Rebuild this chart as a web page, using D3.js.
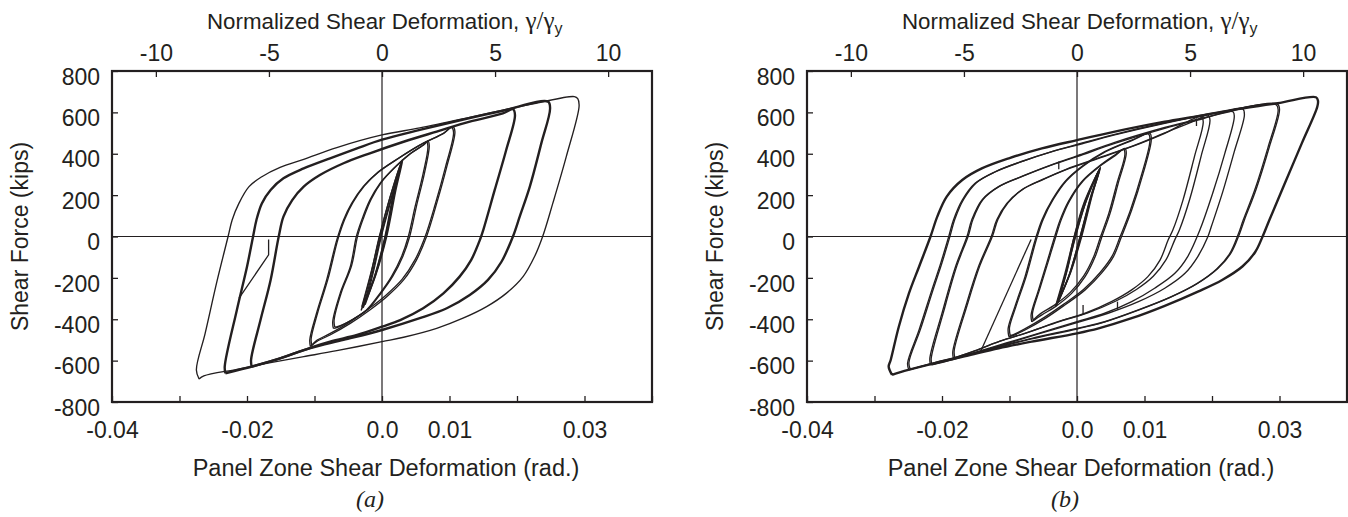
<!DOCTYPE html>
<html><head><meta charset="utf-8">
<script src="https://cdn.jsdelivr.net/npm/d3@7"></script>
<style>
html,body{margin:0;padding:0;background:#fff;}
svg{display:block;}
text{font-family:"Liberation Sans",Arial,Helvetica,sans-serif;fill:#231f20;font-size:23px;}
</style></head><body>
<script>
// ---------- axis / tick data ----------
const yTickValues = [800,600,400,200,0,-200,-400,-600,-800];
const xTickValues = [-0.04,-0.03,-0.02,-0.01,0,0.01,0.02,0.03,0.04];
const xLabelValues = [-0.04,-0.02,0,0.01,0.03];
const xLabelTexts = ["-0.04","-0.02","0.0","0.01","0.03"];
const topTickValues = [-10,-5,0,5,10];
const gammaY = 0.00335;           // yield shear deformation (rad) used by top axis
const xDomain = [-0.04,0.04];
const yDomain = [-800,800];

// ---------- panel (a) loops : [deformation (rad), shear (kips)] ----------
const a_e1 = [[-0.0031,-358],[-0.0017,-190],[-0.0004,0],[0.0012,190],[0.0030,370],[0.0020,235],[0.0006,0],[-0.0010,-190],[-0.0031,-358]];
const a_e2 = [[-0.0028,-345],[-0.0015,-185],[-0.0002,0],[0.0014,190],[0.0031,372],[0.0021,230],[0.0007,0],[-0.0009,-185],[-0.0028,-345]];
const a_e3 = [[-0.0025,-330],[-0.0013,-175],[-0.0001,0],[0.0015,195],[0.0028,352],[0.0019,225],[0.0005,0],[-0.0011,-195],[-0.0025,-330]];
const a_e4 = [[-0.0030,-340],[-0.0016,-170],[-0.0003,5],[0.0011,180],[0.0029,362],[0.0017,210],[0.0004,-5],[-0.0012,-200],[-0.0030,-340]];
const a_c2a = [[-0.0072,-444],[-0.0073,-412],[-0.0062,-275],[-0.0047,-146],[-0.0038,0],[-0.0030,80],[-0.0018,176],[-0.0003,257],[0.0017,329],[0.0041,399],[0.0061,442],[0.0066,458],[0.0068,434],[0.0061,305],[0.0049,144],[0.0039,0],[0.0029,-97],[0.0014,-194],[-0.0003,-275],[-0.0023,-355],[-0.0045,-404],[-0.0067,-440],[-0.0072,-444]];
const a_c2b = [[-0.0070,-438],[-0.0071,-405],[-0.0060,-268],[-0.0045,-140],[-0.0036,4],[-0.0028,84],[-0.0016,180],[-0.0001,262],[0.0019,333],[0.0043,402],[0.0063,446],[0.0068,462],[0.0070,438],[0.0063,308],[0.0051,146],[0.0041,0],[0.0031,-95],[0.0016,-192],[-0.0001,-272],[-0.0021,-352],[-0.0043,-400],[-0.0065,-435],[-0.0070,-438]];
const a_c3a = [[-0.0106,-532],[-0.0107,-500],[-0.0097,-371],[-0.0082,-210],[-0.0067,-17],[-0.0057,80],[-0.0045,160],[-0.0028,241],[-0.0008,305],[0.0022,373],[0.0056,442],[0.0091,499],[0.0105,531],[0.0108,507],[0.0096,338],[0.0081,160],[0.0066,0],[0.0051,-114],[0.0032,-210],[0.0007,-291],[-0.0018,-355],[-0.0047,-420],[-0.0077,-476],[-0.0097,-508],[-0.0106,-532]];
const a_c3b = [[-0.0104,-526],[-0.0105,-495],[-0.0095,-365],[-0.0080,-205],[-0.0065,-10],[-0.0055,85],[-0.0043,165],[-0.0026,245],[-0.0006,310],[0.0024,377],[0.0058,445],[0.0092,500],[0.0103,527],[0.0106,503],[0.0094,335],[0.0079,157],[0.0064,0],[0.0049,-112],[0.0030,-206],[0.0005,-286],[-0.0020,-350],[-0.0049,-416],[-0.0078,-471],[-0.0097,-503],[-0.0104,-526]];
const a_c4 = [[-0.0193,-629],[-0.0194,-597],[-0.0180,-404],[-0.0165,-210],[-0.0153,0],[-0.0146,96],[-0.0133,176],[-0.0116,241],[-0.0092,297],[-0.0057,354],[-0.0018,402],[0.0032,458],[0.0081,507],[0.0130,555],[0.0179,595],[0.0194,615],[0.0197,587],[0.0184,418],[0.0167,225],[0.0150,31],[0.0145,-17],[0.0132,-114],[0.0115,-194],[0.0091,-275],[0.0061,-347],[0.0027,-404],[0,-436],[-0.0037,-476],[-0.0077,-508],[-0.0116,-549],[-0.0151,-589],[-0.0193,-629]];
const a_c5 = [[-0.0232,-661],[-0.0233,-629],[-0.0215,-355],[-0.0200,-146],[-0.0191,0],[-0.0186,80],[-0.0178,160],[-0.0165,225],[-0.0146,281],[-0.0116,329],[-0.0077,378],[-0.0037,426],[0,468],[0.0056,515],[0.0130,573],[0.0179,608],[0.0246,652],[0.0249,619],[0.0236,450],[0.0219,241],[0.0204,96],[0.0194,0],[0.0177,-122],[0.0157,-210],[0.0130,-283],[0.0096,-347],[0.0056,-395],[0,-452],[-0.0057,-500],[-0.0106,-540],[-0.0151,-589],[-0.0190,-626],[-0.0232,-661]];
const a_c6 = [[-0.0271,-689],[-0.0275,-645],[-0.0262,-468],[-0.0244,-210],[-0.0228,0],[-0.0222,80],[-0.0212,160],[-0.0197,241],[-0.0178,289],[-0.0151,334],[-0.0116,373],[-0.0067,430],[0,491],[0.0056,525],[0.0130,576],[0.0179,611],[0.0228,644],[0.0285,676],[0.0290,666],[0.0292,631],[0.0273,386],[0.0253,160],[0.0238,0],[0.0226,-97],[0.0209,-194],[0.0184,-275],[0.0155,-339],[0.0120,-395],[0.0081,-444],[0.0032,-487],[0,-508],[-0.0067,-552],[-0.0116,-581],[-0.0165,-610],[-0.0215,-642],[-0.0264,-674],[-0.0271,-689]];
const a_partial = [[-0.0212,-299],[-0.0168,-89],[-0.0168,-14]];

// ---------- panel (b) loops ----------
const b_e1 = [[-0.0032,-339],[-0.0018,-180],[-0.0004,0],[0.0012,170],[0.0035,334],[0.0022,200],[0.0006,0],[-0.0010,-175],[-0.0032,-339]];
const b_e2 = [[-0.0030,-330],[-0.0016,-175],[-0.0002,0],[0.0014,175],[0.0034,330],[0.0023,205],[0.0007,0],[-0.0009,-170],[-0.0030,-330]];
const b_e3 = [[-0.0028,-320],[-0.0015,-170],[-0.0003,-5],[0.0013,165],[0.0033,322],[0.0020,190],[0.0005,5],[-0.0011,-180],[-0.0028,-320]];
const b_e4 = [[-0.0031,-334],[-0.0017,-185],[-0.0005,-10],[0.0010,160],[0.0034,328],[0.0021,195],[0.0004,-8],[-0.0012,-190],[-0.0031,-334]];
const b_c2a = [[-0.0067,-412],[-0.0068,-379],[-0.0057,-258],[-0.0045,-130],[-0.0033,0],[-0.0025,80],[-0.0013,168],[0.0007,265],[0.0032,338],[0.0056,394],[0.0071,426],[0.0073,402],[0.0061,257],[0.0049,112],[0.0037,0],[0.0027,-97],[0.0012,-194],[-0.0008,-275],[-0.0032,-339],[-0.0052,-379],[-0.0067,-412]];
const b_c2b = [[-0.0065,-405],[-0.0066,-372],[-0.0055,-252],[-0.0043,-125],[-0.0031,4],[-0.0023,84],[-0.0011,172],[0.0009,268],[0.0034,340],[0.0057,392],[0.0069,421],[0.0071,398],[0.0059,254],[0.0047,110],[0.0035,0],[0.0025,-95],[0.0010,-190],[-0.0010,-270],[-0.0034,-333],[-0.0054,-373],[-0.0065,-405]];
const b_c3a = [[-0.0101,-484],[-0.0102,-444],[-0.0092,-339],[-0.0077,-194],[-0.0062,-17],[-0.0052,80],[-0.0037,176],[-0.0018,265],[0.0007,338],[0.0041,410],[0.0081,466],[0.0108,499],[0.0110,466],[0.0098,305],[0.0081,128],[0.0066,0],[0.0054,-97],[0.0036,-178],[0.0012,-258],[-0.0018,-331],[-0.0047,-396],[-0.0077,-452],[-0.0097,-481],[-0.0101,-484]];
const b_c3b = [[-0.0099,-479],[-0.0100,-440],[-0.0090,-334],[-0.0075,-190],[-0.0060,-12],[-0.0050,84],[-0.0035,180],[-0.0016,268],[0.0009,340],[0.0043,411],[0.0082,465],[0.0106,495],[0.0108,462],[0.0096,302],[0.0079,126],[0.0064,0],[0.0052,-95],[0.0034,-175],[0.0010,-255],[-0.0020,-328],[-0.0049,-392],[-0.0078,-448],[-0.0095,-476],[-0.0099,-479]];
const b_c4a = [[-0.0183,-589],[-0.0184,-557],[-0.0165,-339],[-0.0146,-146],[-0.0127,0],[-0.0119,80],[-0.0104,160],[-0.0082,225],[-0.0052,273],[-0.0018,321],[0.0032,378],[0.0081,434],[0.0130,499],[0.0184,579],[0.0187,555],[0.0174,386],[0.0157,176],[0.0142,31],[0.0135,-17],[0.0123,-114],[0.0105,-194],[0.0081,-258],[0.0051,-315],[0.0012,-371],[-0.0028,-412],[-0.0077,-468],[-0.0116,-508],[-0.0151,-552],[-0.0183,-589]];
const b_c4b = [[-0.0181,-585],[-0.0182,-553],[-0.0163,-335],[-0.0144,-142],[-0.0125,4],[-0.0117,84],[-0.0102,164],[-0.0080,229],[-0.0050,277],[-0.0016,325],[0.0034,382],[0.0083,438],[0.0132,503],[0.0175,560],[0.0194,587],[0.0197,562],[0.0184,390],[0.0167,180],[0.0152,34],[0.0145,-15],[0.0132,-112],[0.0113,-192],[0.0088,-256],[0.0057,-313],[0.0016,-369],[-0.0025,-410],[-0.0075,-466],[-0.0114,-506],[-0.0149,-550],[-0.0181,-585]];
const b_c5a = [[-0.0217,-621],[-0.0218,-589],[-0.0200,-371],[-0.0180,-146],[-0.0163,0],[-0.0156,80],[-0.0141,176],[-0.0116,241],[-0.0082,289],[-0.0037,346],[0,386],[0.0056,450],[0.0130,523],[0.0179,563],[0.0231,603],[0.0233,579],[0.0219,402],[0.0201,209],[0.0182,31],[0.0164,-97],[0.0145,-178],[0.0115,-250],[0.0081,-315],[0.0041,-371],[0,-412],[-0.0057,-468],[-0.0106,-516],[-0.0156,-565],[-0.0190,-597],[-0.0217,-621]];
const b_c5b = [[-0.0215,-621],[-0.0216,-590],[-0.0198,-368],[-0.0178,-142],[-0.0161,4],[-0.0154,84],[-0.0139,180],[-0.0114,245],[-0.0080,293],[-0.0035,350],[0,390],[0.0056,455],[0.0130,527],[0.0179,567],[0.0228,605],[0.0246,615],[0.0248,587],[0.0233,410],[0.0216,217],[0.0199,48],[0.0194,0],[0.0179,-97],[0.0160,-178],[0.0130,-250],[0.0091,-315],[0.0046,-371],[0,-416],[-0.0057,-471],[-0.0106,-520],[-0.0156,-568],[-0.0190,-600],[-0.0215,-621]];
const b_c6a = [[-0.0249,-645],[-0.0251,-613],[-0.0234,-452],[-0.0215,-258],[-0.0202,-130],[-0.0190,0],[-0.0183,80],[-0.0170,176],[-0.0151,257],[-0.0121,313],[-0.0082,362],[-0.0037,410],[0,442],[0.0056,491],[0.0130,547],[0.0204,595],[0.0297,640],[0.0300,615],[0.0285,434],[0.0265,225],[0.0248,80],[0.0241,15],[0.0228,-81],[0.0209,-154],[0.0179,-226],[0.0140,-291],[0.0091,-355],[0.0041,-412],[0,-444],[-0.0067,-492],[-0.0116,-532],[-0.0165,-573],[-0.0215,-613],[-0.0249,-645]];
const b_c6b = [[-0.0247,-642],[-0.0249,-610],[-0.0232,-449],[-0.0213,-255],[-0.0200,-127],[-0.0188,3],[-0.0181,83],[-0.0168,179],[-0.0149,260],[-0.0119,316],[-0.0080,365],[-0.0035,413],[0,445],[0.0056,494],[0.0130,550],[0.0204,597],[0.0295,637],[0.0298,612],[0.0283,431],[0.0263,222],[0.0246,77],[0.0239,12],[0.0226,-84],[0.0207,-157],[0.0177,-229],[0.0138,-294],[0.0089,-358],[0.0039,-415],[0,-447],[-0.0067,-495],[-0.0116,-535],[-0.0165,-576],[-0.0215,-616],[-0.0247,-642]];
const b_c7 = [[-0.0274,-669],[-0.0279,-629],[-0.0276,-597],[-0.0264,-436],[-0.0249,-275],[-0.0234,-146],[-0.0217,0],[-0.0207,96],[-0.0193,193],[-0.0170,273],[-0.0141,329],[-0.0101,378],[-0.0052,426],[0,466],[0.0056,507],[0.0130,555],[0.0179,582],[0.0228,611],[0.0297,644],[0.0354,673],[0.0357,656],[0.0356,627],[0.0333,450],[0.0307,250],[0.0285,80],[0.0275,0],[0.0264,-75],[0.0245,-145],[0.0215,-210],[0.0180,-265],[0.0130,-335],[0.0081,-395],[0.0032,-444],[0,-468],[-0.0067,-508],[-0.0116,-540],[-0.0165,-578],[-0.0215,-616],[-0.0264,-658],[-0.0274,-669]];
const b_partial = [[-0.0143,-557],[-0.0068,-14]];
const b_mark1 = [[-0.0027,362],[-0.0027,325]];
const b_mark2 = [[0.0177,571],[0.0177,534]];
const b_mark3 = [[0.0009,-331],[0.0009,-375]];
const b_mark4 = [[0.0060,-315],[0.0060,-355]];

// ---------- layout ----------
const W = 1348, H = 517;
const TOP = 71, BOTTOM = 402, PW = 540;
const INK = "#231f20";

const panels = [
  { left: 112, caption: "(a)",
    curves: [a_e1,a_e2,a_e3,a_e4,a_c2a,a_c2b,a_c3a,a_c3b,a_c6],
    thick: [a_c4,a_c5],
    straight: [a_partial] },
  { left: 807, caption: "(b)",
    curves: [b_e1,b_e2,b_e3,b_e4,b_c2a,b_c2b,b_c3a,b_c3b,b_c4a,b_c4b,b_c5a,b_c5b,b_c6a,b_c6b],
    thick: [b_c7],
    straight: [b_partial,b_mark1,b_mark2,b_mark3,b_mark4] }
];

const svg = d3.select("body").append("svg").attr("width", W).attr("height", H);
const plain = d => String(d);

panels.forEach(p => {
  const x = d3.scaleLinear().domain(xDomain).range([p.left, p.left + PW]);
  const y = d3.scaleLinear().domain(yDomain).range([BOTTOM, TOP]);
  const xn = d3.scaleLinear().domain([xDomain[0]/gammaY, xDomain[1]/gammaY]).range([p.left, p.left + PW]);
  const zeroX = x(0);
  const g = svg.append("g");

  // zero lines
  g.append("line").attr("x1", x(xDomain[0])).attr("x2", x(xDomain[1])).attr("y1", y(0)).attr("y2", y(0))
    .attr("stroke", INK).attr("stroke-width", 1.2);
  g.append("line").attr("x1", zeroX).attr("x2", zeroX).attr("y1", y(yDomain[0])).attr("y2", y(yDomain[1]))
    .attr("stroke", INK).attr("stroke-width", 1.2);

  // curves
  const smooth = d3.line().x(d => x(d[0])).y(d => y(d[1])).curve(d3.curveCatmullRom.alpha(0.5));
  const straight = d3.line().x(d => x(d[0])).y(d => y(d[1]));
  p.curves.forEach(c => g.append("path").attr("d", smooth(c)).attr("fill", "none")
    .attr("stroke", INK).attr("stroke-width", 1.35).attr("stroke-linejoin", "round"));
  p.thick.forEach(c => g.append("path").attr("d", smooth(c)).attr("fill", "none")
    .attr("stroke", INK).attr("stroke-width", 2.4).attr("stroke-linejoin", "round"));
  p.straight.forEach(c => g.append("path").attr("d", straight(c)).attr("fill", "none")
    .attr("stroke", INK).attr("stroke-width", 1.3));

  // axes
  const fmtX = d => { const i = xLabelValues.findIndex(v => Math.abs(v - d) < 1e-9); return i >= 0 ? xLabelTexts[i] : ""; };
  const gb = g.append("g").attr("transform", `translate(0,${BOTTOM})`)
    .call(d3.axisBottom(x).tickValues(xTickValues).tickSize(-6).tickPadding(20).tickFormat(fmtX));
  const gl = g.append("g").attr("transform", `translate(${p.left},0)`)
    .call(d3.axisLeft(y).tickValues(yTickValues).tickSize(-6).tickPadding(12).tickFormat(plain));
  const gt = g.append("g").attr("transform", `translate(0,${TOP})`)
    .call(d3.axisTop(xn).tickValues(topTickValues).tickSize(-6).tickPadding(10).tickFormat(plain));
  [gb, gl, gt].forEach(a => {
    a.select(".domain").remove();
    a.attr("font-size", null).attr("font-family", null);
    a.selectAll("line").attr("stroke", INK).attr("stroke-width", 1.3);
  });
  gl.selectAll("text").attr("dy", "0.57em");

  // frame
  g.append("rect").attr("x", p.left).attr("y", TOP).attr("width", PW).attr("height", BOTTOM - TOP)
    .attr("fill", "none").attr("stroke", INK).attr("stroke-width", 2.2);

  // titles
  const tt = g.append("text").attr("x", zeroX - 175).attr("y", 29).style("font-size", "22.3px");
  tt.append("tspan").text("Normalized Shear Deformation, ");
  tt.append("tspan").style("font-family", "'Liberation Serif','Times New Roman',serif").style("font-size", "25px").text("γ/γ");
  tt.append("tspan").attr("dy", 5).style("font-size", "16px").text("y");

  g.append("text").attr("x", zeroX + 4).attr("y", 476).attr("text-anchor", "middle").style("font-size", "23.5px")
    .text("Panel Zone Shear Deformation (rad.)");
  g.append("text").attr("transform", `translate(${p.left - 84},${(TOP + BOTTOM) / 2}) rotate(-90)`)
    .attr("text-anchor", "middle").text("Shear Force (kips)");
  g.append("text").attr("x", zeroX - 12).attr("y", 507).attr("text-anchor", "middle")
    .style("font-family", "'Liberation Serif','Times New Roman',serif").style("font-style", "italic")
    .style("font-size", "24px").text(p.caption);
});
</script>
</body></html>
